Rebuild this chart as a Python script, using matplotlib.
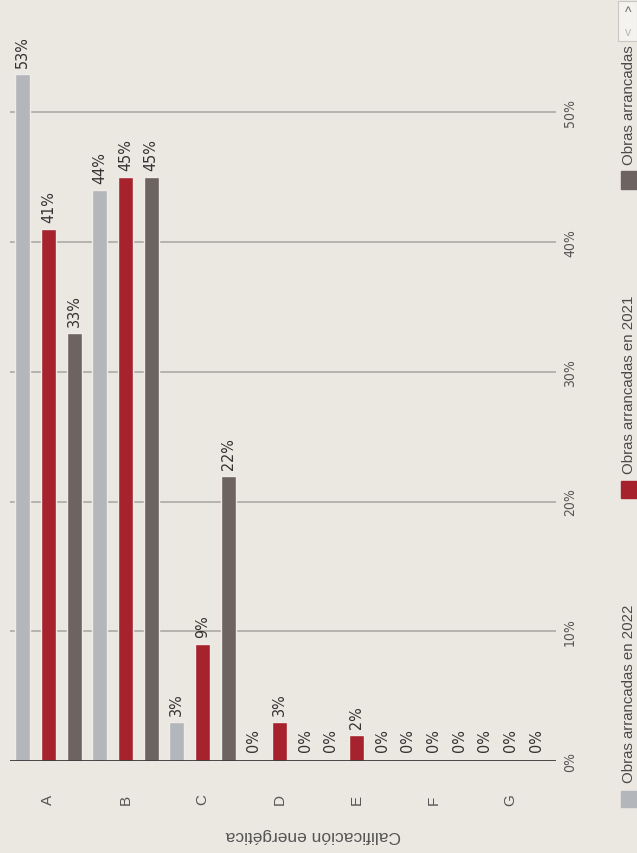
import matplotlib
matplotlib.use("Agg")
import matplotlib.pyplot as plt
from matplotlib import font_manager
from matplotlib.patches import Rectangle
import numpy as np

categories = ["A", "B", "C", "D", "E", "F", "G"]
series_names = ["Obras arrancadas en 2022", "Obras arrancadas en 2021", "Obras arrancadas"]
obras_2022 = [53, 44, 3, 0, 0, 0, 0]
obras_2021 = [41, 45, 9, 3, 2, 0, 0]
obras_prev = [33, 45, 22, 0, 0, 0, 0]
value_ticks = [0, 10, 20, 30, 40, 50]
axis_title = "Calificación energética"

colors = ["#b3b6ba", "#a6232e", "#6d6360"]
bg = "#ebe8e2"

fonts = font_manager.fontManager.ttflist
names = {f.name for f in fonts}
has_dejavu_cond = any(f.name == "DejaVu Sans" and f.stretch in ("condensed", 500 - 100) for f in fonts)
if "Liberation Sans Narrow" in names:
    narrow = dict(family="Liberation Sans Narrow")
elif has_dejavu_cond:
    narrow = dict(family="DejaVu Sans", fontstretch="condensed")
else:
    narrow = dict(family="Liberation Sans")
reg = "Liberation Sans"

W, H = 637, 854
fig = plt.figure(figsize=(W / 100, H / 100), dpi=100, facecolor=bg)

def fx(px):
    return px / W

def fy(py):
    return 1 - py / H

ax = fig.add_axes([fx(10), fy(762), fx(556) - fx(10), fy(0) - fy(762)])
ax.set_facecolor(bg)
ax.patch.set_alpha(0)
for s in ax.spines.values():
    s.set_visible(False)
ax.set_xlim(-0.497, 6.593)
ax.set_ylim(0, 58.75)
ax.set_xticks([])
ax.set_yticks([])

# gridlines
for v in value_ticks[1:]:
    ax.axhline(v, color="#a8a5a0", lw=1.1, zorder=1)
ax.axhline(0, color="#3c3b3a", lw=1.3, zorder=4)

x = np.arange(len(categories))
offsets = [-0.335, 0.0, 0.335]
width = 0.195
all_series = [obras_2022, obras_2021, obras_prev]
for k, (vals, c) in enumerate(zip(all_series, colors)):
    xs = x + offsets[k]
    ax.bar(xs, vals, width=width, color=c, edgecolor="#f1ebe8", linewidth=1.0, zorder=3)
    for xi, v in zip(xs, vals):
        off = 7 if v > 0 else 10
        ax.annotate(f"{v}%", xy=(xi, v), xytext=(0, off), textcoords="offset pixels",
                    rotation=90, ha="center", va="bottom", fontsize=11.5,
                    color="#333333", zorder=5, **narrow)

# value tick labels on right
for v in value_ticks:
    ax.annotate(f"{v}%", xy=(1, v), xycoords=("axes fraction", "data"),
                xytext=(14, 0), textcoords="offset pixels", rotation=90,
                ha="center", va="center", fontsize=10, color="#555555", **narrow)

# category labels
for xi, cat in zip(x, categories):
    ax.annotate(cat, xy=(xi, 0), xytext=(0, -38), textcoords="offset pixels",
                rotation=90, ha="center", va="center", fontsize=11,
                family=reg, color="#555555")

fig.text(fx(313), fy(836), axis_title, rotation=180, ha="center", va="center",
         fontsize=12.5, family=reg, color="#555555")

# legend (manual, rotated)
legend_sq = [(792, 808), (482, 499), (172, 190)]
legend_txt_start = [783, 474, 165]
for (y0, y1), ys, name, c in zip(legend_sq, legend_txt_start, series_names, colors):
    fig.patches.append(Rectangle((fx(621), fy(y1)), fx(637) - fx(621), fy(y0) - fy(y1),
                                 transform=fig.transFigure, color=c, zorder=3))
    fig.text(fx(629), fy(ys), name, rotation=90, ha="center", va="bottom",
             fontsize=10.8, family=reg, color="#4a4a4a")

# pager arrows box
fig.patches.append(Rectangle((fx(618), fy(42)), fx(637) - fx(618), fy(2) - fy(42),
                             transform=fig.transFigure, facecolor="#f4f3f0",
                             edgecolor="#c8c6c2", lw=0.8, zorder=3))
fig.text(fx(628), fy(13), "^", ha="center", va="center", fontsize=10, family=reg,
         color="#666666", zorder=4)
fig.text(fx(628), fy(33), "v", ha="center", va="center", fontsize=9, family=reg,
         color="#bbbbbb", zorder=4)

fig.savefig("out.png", dpi=100, facecolor=bg)
